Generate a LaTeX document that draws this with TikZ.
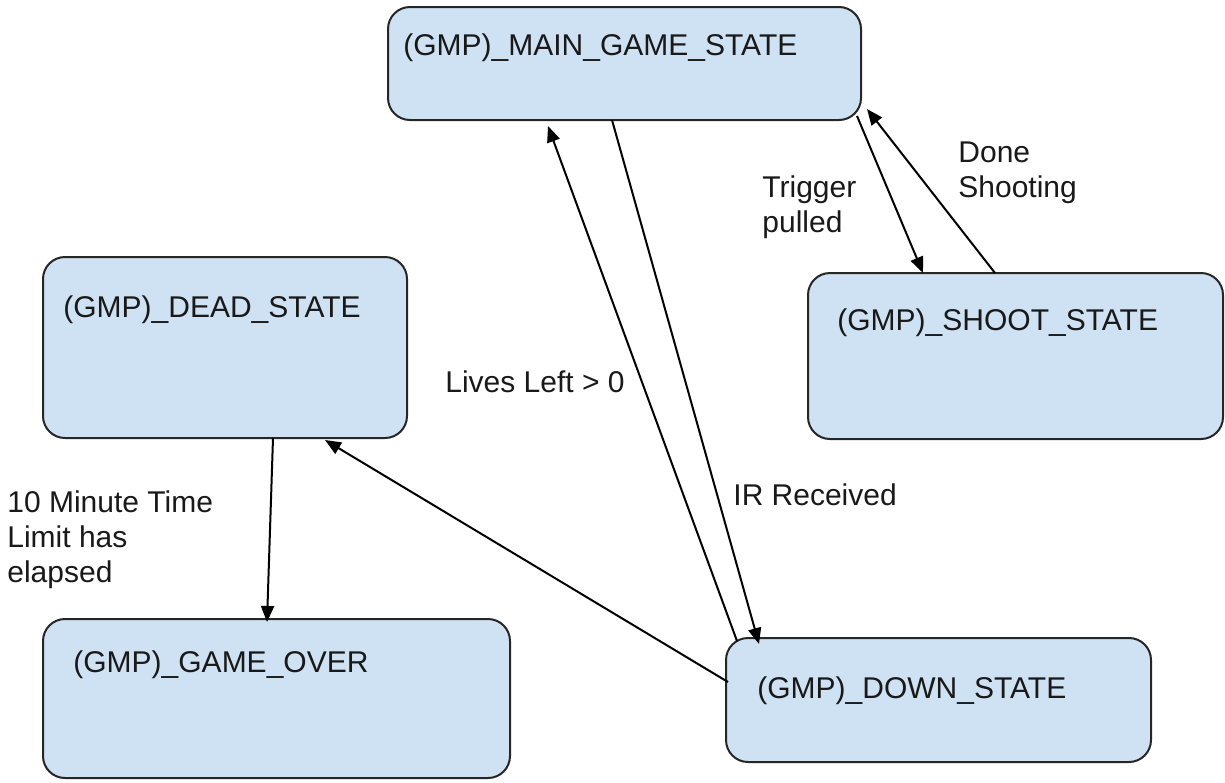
\documentclass[tikz,border=0pt]{standalone}
\usepackage{fontspec}
\setmainfont{Liberation Sans}
\usetikzlibrary{positioning}
\usetikzlibrary{arrows.meta,calc}
\definecolor{stateblue}{HTML}{CFE2F3}
\tikzstyle{state}=[draw=black!85, fill=stateblue, line width=1pt, rounded corners=11pt, anchor=north west, inner sep=0pt, outer sep=0pt]
\tikzstyle{statename}=[anchor=base west, inner sep=0pt, text=black!90, font=\fontsize{15}{17.5}\selectfont]
\tikzstyle{edge} = [draw, line width=1pt, -{Triangle[length=8pt,width=6.5pt]}]
\tikzstyle{weight} = [anchor=base west, inner sep=0pt, align=left, text=black!90, font=\fontsize{15}{17.5}\selectfont]

\begin{document}
\begin{tikzpicture}[x=0.5pt, y=-0.5pt]
    \useasboundingbox (0,0) rectangle (1225,782);
    % First the states: top left corner, width, height
    \foreach \pos/\name/\w/\h in {{(388,7)/main/473/113}, {(43,257)/dead/364/181}, {(808,273)/shoot/415/166}, {(43,619)/over/467/159}, {(726,638)/down/425/124}}
        \node[state, minimum width=\w*0.5pt, minimum height=\h*0.5pt] (\name) at \pos {};

    % state names in the upper left of each box
    \foreach \name/\dx/\dy/\txt in {main/15/48/{(GMP)\_MAIN\_GAME\_STATE}, dead/20/60/{(GMP)\_DEAD\_STATE}, shoot/29/57/{(GMP)\_SHOOT\_STATE}, over/30/53/{(GMP)\_GAME\_OVER}, down/31/60/{(GMP)\_DOWN\_STATE}}
        \node[statename] (\name-txt) at ([shift={(\dx,\dy)}]\name.north west) {\txt};

    % Transitions
    \draw[edge] ([shift={(224,0)}]main.south west) -- ([shift={(33,6)}]down.north west);
    \draw[edge] ([shift={(11,3)}]down.north west) -- ([shift={(160,6)}]main.south west);
    \draw[edge] ([shift={(-4,-4)}]main.south east) -- ([shift={(115,0)}]shoot.north west);
    \draw[edge] ([shift={(187,0)}]shoot.north west) -- ([shift={(6,-11)}]main.south east);
    \draw[edge] ([shift={(230,0)}]dead.south west) -- ([shift={(224,3)}]over.north west);
    \draw[edge] ([shift={(2,44)}]down.north west) -- ([shift={(282,2)}]dead.south west);

    % and the conditions (base = baseline of the last line)
    \node[weight] (lives) at (445,392) {Lives Left > 0};
    \node[weight] (ir) at (733,505) {IR Received};
    \node[weight] (trigger) at (762,232) {Trigger\\pulled};
    \node[weight] (done) at (958,197) {Done\\Shooting};
    \node[weight] (limit) at (7,582) {10 Minute Time\\Limit has\\elapsed};
\end{tikzpicture}
\end{document}
